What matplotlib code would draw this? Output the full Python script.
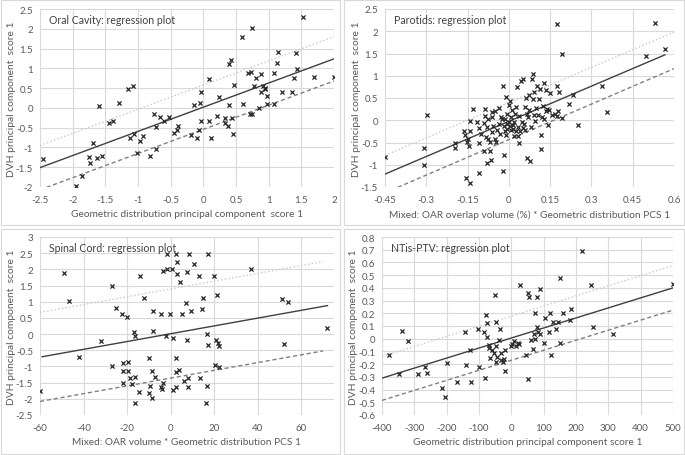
import matplotlib
matplotlib.use('Agg')
import matplotlib.pyplot as plt
import matplotlib.patches as mpatches
import numpy as np

plt.rcParams['font.family'] = ['Lato', 'DejaVu Sans']

# ---- Oral Cavity ----
oral_x = [-2.46, -1.95, -1.86, -1.75, -1.73, -1.69, -1.63, -1.55, -1.60, -1.45, -1.38, -1.29,
          -1.15, -1.07, -1.13, -1.06, -1.02, -0.97, -0.92, -0.81, -0.76, -0.73, -0.73, -0.67,
          -0.60, -0.53, -0.45, -0.40, -0.39, -0.19, -0.14, -0.10, -0.07, -0.05, -0.03, -0.03,
          0.08, 0.08, 0.11, 0.21, 0.24, 0.33, 0.33, 0.37, 0.40, 0.42, 0.40, 0.44, 0.45, 0.47,
          0.59, 0.60, 0.69, 0.73, 0.75, 0.72, 0.75, 0.77, 0.80, 0.85, 0.88, 0.89, 0.92, 0.94,
          0.94, 0.97, 0.98, 1.08, 1.08, 1.12, 1.15, 1.20, 1.36, 1.39, 1.42, 1.43, 1.53, 1.70, 2.00]
oral_y = [-1.29, -1.97, -1.72, -1.23, -1.40, -0.90, -1.27, -1.22, 0.05, -0.38, -0.33, 0.12,
          0.48, 0.55, -0.76, -0.65, -1.13, -0.83, -0.70, -1.22, -0.16, -0.49, -1.03, -0.22,
          -0.32, -0.24, -0.63, -0.57, -0.47, -0.68, 0.08, -0.76, -0.55, 0.13, -0.34, 0.41,
          0.74, -0.33, -0.75, -0.20, 0.28, -0.37, -0.26, -0.45, 1.11, 1.20, 0.08, -0.26, -0.66, 0.58,
          1.80, 0.11, 0.88, 0.90, 2.03, -0.15, -0.15, 0.55, 0.75, 0.00, 0.39, 0.85, 0.55, 0.50,
          0.47, 0.31, 0.10, 0.88, 0.11, 1.13, 1.42, 0.40, 0.40, 0.75, 1.38, 0.98, 2.31, 0.78, 0.78]
oral_line_x = [-2.5, 2.0]
oral_fit = [-1.51, 1.24]
oral_upper = [-0.95, 1.80]
oral_lower = [-2.07, 0.68]

# ---- Parotids ----
par_x = [-0.45, -0.31, -0.31, -0.298, -0.195, -0.195, -0.163, -0.16, -0.152, -0.156, -0.14, -0.149,
         -0.141, -0.141, -0.143, -0.13, -0.117, -0.11, -0.108, -0.108, -0.10, -0.092, -0.092, -0.088,
         -0.086, -0.083, -0.08, -0.078, -0.074, -0.074, -0.07, -0.068, -0.066, -0.063, -0.062, -0.06,
         -0.056, -0.052, -0.05, -0.047, -0.043, -0.037, -0.035, -0.033, -0.027, -0.025, -0.023, -0.02,
         -0.019, -0.017, -0.015, -0.013, -0.012, -0.009, -0.007, -0.006, -0.005, -0.001, 0.0, 0.003,
         0.005, 0.006, 0.009, 0.011, 0.014, 0.015, 0.017, 0.02, 0.023, 0.025, 0.027, 0.029, 0.032,
         0.033, 0.036, 0.038, 0.04, 0.044, 0.048, 0.05, 0.052, 0.054, 0.057, 0.06, 0.062, 0.065,
         0.067, 0.07, 0.072, 0.074, 0.078, 0.08, 0.084, 0.087, 0.088, 0.09, 0.093, 0.096, 0.10,
         0.102, 0.106, 0.111, 0.113, 0.116, 0.117, 0.12, 0.123, 0.127, 0.128, 0.135, 0.136, 0.137,
         0.141, 0.146, 0.148, 0.157, 0.169, 0.175, 0.175, 0.175, 0.179, 0.181, 0.193, 0.193, 0.22,
         0.233, 0.252, 0.339, 0.356, 0.499, 0.531, 0.567]
par_y = [-0.83, -0.63, -1.00, 0.12, -0.62, -0.51, -0.25, -0.34, -0.49, -1.30, -1.41, -0.42,
         -0.24, -0.01, -0.58, 0.26, -0.04, -0.18, -1.19, -0.51, -0.30, -0.06, -0.68, 0.09,
         0.26, -0.38, -0.15, -0.95, 0.03, -0.42, -0.48, -0.68, -0.90, 0.18, -0.27, 0.07,
         -0.12, 0.20, -0.42, -0.49, -0.23, 0.27, -0.08, -0.30, 0.07, 0.03, 0.77, -1.14,
         -0.79, -0.12, -0.25, 0.03, -0.33, 0.53, 0.14, -0.08, -0.19, -0.03, 0.35, -0.13,
         0.44, -0.21, 0.07, 0.24, -0.10, -0.19, -0.36, -0.03, 0.14, -0.25, 0.30, 0.74, -0.36,
         -0.15, 0.09, -0.51, -0.24, 0.88, -0.03, -0.18, 0.92, -0.08, 0.29, -0.23, 0.50, 0.14,
         -0.85, 0.07, 0.56, 0.24, -0.92, -0.15, 0.92, 0.48, 1.05, 0.11, 0.63, -0.01, 0.27,
         0.77, 0.11, 0.48, 0.70, -0.33, -0.64, 0.07, 0.33, 0.84, 0.02, 0.69, 0.20, 0.26,
         -0.10, 0.22, 0.62, 0.11, 0.14, 0.09, 0.77, 2.16, 0.20, 0.63, 1.49, 0.05, 0.37,
         0.57, -0.10, 0.77, 0.18, 1.44, 2.19, 1.60]
par_fit_x = [-0.45, 0.567]
par_fit = [-1.21, 1.47]
par_band_x = [-0.45, 0.6]
par_upper = [-0.79, 1.98]
par_lower = [-1.63, 1.16]

# ---- Spinal Cord ----
sc_x = [-60, -49, -46.6, -42.3, -32, -27, -26.8, -25.2, -22.4, -22.1, -22.1, -21.8, -20.1, -19.6,
        -19.6, -18.6, -17.6, -17, -16.6, -16.4, -16.4, -14.6, -14.1, -12.4, -10.1, -10.1, -9.5, -8.7,
        -8.6, -8.3, -8, -7.2, -4.6, -4.6, -4, -3.7, -3.4, -2.1, -1.8, -1.5, -0.3, 0.8, 0.9, 0.9,
        2.3, 2.3, 2.5, 2.6, 2.8, 2.9, 3.8, 4.4, 5.2, 6, 6.9, 7.4, 7.4, 7.8, 8, 8.4, 9.2, 10.9,
        13.2, 13.5, 14.3, 14.7, 16.4, 16.6, 16.7, 17, 17.2, 19.9, 20.3, 20.9, 21.2, 21.6, 22.1,
        22.4, 37, 51, 52, 53.7, 71.8]
sc_y = [-1.77, 1.90, 1.03, -0.70, -0.20, -1.00, 1.48, 0.80, 0.61, -0.88, -1.15, -1.50, 0.52, -0.87,
        -1.13, -1.37, -1.53, 0.05, -0.07, -2.13, -1.33, -1.78, 1.80, 1.12, -0.75, -1.82, -1.60, -1.98,
        -1.13, 0.70, 0.10, -1.32, 0.63, -1.63, -1.70, 1.94, -1.50, -0.07, 2.48, 2.02, 0.63, 2.02, -0.12, -1.73,
        2.48, -0.73, -1.65, -1.17, 2.22, 1.87, -1.10, 1.62, 0.63, -1.45, 0.97, 1.93, -0.17, -1.35, -1.62, 2.48, 0.72, 2.18,
        1.80, -1.35, 0.77, 1.10, -2.13, 0.00, -1.60, 2.47, -0.33, 1.80, -0.97, -0.17, 1.20, -0.27, -1.03,
        -0.37, 2.02, 1.08, -0.32, 0.98, 0.20]
sc_fit_x = [-59, 72]
sc_fit = [-0.70, 0.88]
sc_band_x = [-60, 70]
sc_upper = [0.67, 2.24]
sc_lower = [-2.08, -0.52]

# ---- NTis-PTV ----
nt_x = [-378, -348, -338, -321, -288, -267, -261, -214, -205, -198, -169, -143, -140, -124, -129,
        -104, -101, -86, -80, -78, -74, -76, -70, -70, -65, -60, -55, -52, -48, -48, -46, -43, -39,
        -34, -33, -31, -26, -22, -21, -20, 0, 3, 7, 15, 20, 24, 28, 44, 50, 50, 56, 60, 67, 70, 72,
        74, 79, 80, 84, 88, 89, 101, 103, 118, 120, 124, 128, 139, 144, 150, 152, 159, 180, 186,
        219, 245, 252, 313, 499]
nt_y = [-0.13, -0.28, 0.06, -0.02, -0.28, -0.22, -0.27, -0.39, -0.46, -0.19, -0.34, 0.05, -0.21, -0.34, -0.09,
        0.08, -0.22, 0.05, -0.31, 0.19, 0.12, 0.01, -0.05, -0.07, -0.15, -0.09, -0.11, 0.34, -0.18, 0.13, -0.06, -0.14, -0.01,
        0.08, -0.11, -0.17, -0.18, -0.16, -0.25, -0.09, -0.06, -0.04, -0.02, -0.06, -0.03, -0.04, 0.42, -0.13, 0.36, -0.32, 0.33, -0.01, -0.08, 0.04, 0.00,
        0.20, 0.33, 0.09, 0.05, 0.04, 0.39, -0.03, 0.16, 0.05, 0.20, -0.13, 0.13, 0.08, 0.13, 0.48, -0.03, 0.20, 0.15, 0.23,
        0.69, 0.42, 0.09, 0.04, 0.43]
nt_line_x = [-400, 500]
nt_fit = [-0.31, 0.40]
nt_upper = [-0.14, 0.575]
nt_lower = [-0.485, 0.225]

W, H = 685, 456
fig = plt.figure(figsize=(W / 100, H / 100), dpi=100)

# chart frames
for (x0, y0, x1, y1) in [(1, 1, 340, 226), (344, 1, 684, 226), (1, 230, 340, 455), (344, 230, 684, 455)]:
    fig.patches.append(mpatches.Rectangle((x0 / W, 1 - y1 / H), (x1 - x0) / W, (y1 - y0) / H,
                                          transform=fig.transFigure, fill=False,
                                          edgecolor='#d9d9d9', linewidth=0.8))

tick_c = '#595959'
lab_c = '#595959'


def tick_fmt(v, p):
    v = round(v, 4)
    if abs(v) < 1e-9:
        return '0'
    return '{:g}'.format(v)


fmt = matplotlib.ticker.FuncFormatter(tick_fmt)


def make_ax(px):
    l, t, r, b = px
    ax = fig.add_axes([l / W, 1 - b / H, (r - l) / W, (b - t) / H])
    for s in ax.spines.values():
        s.set_visible(False)
    ax.grid(True, color='#d9d9d9', linewidth=0.8)
    ax.set_axisbelow(True)
    ax.tick_params(length=0, labelsize=7, colors=tick_c, pad=5)
    ax.tick_params(axis='x', pad=6)
    ax.xaxis.set_major_formatter(fmt)
    ax.yaxis.set_major_formatter(fmt)
    return ax


def draw(ax, x, y, fx, fy, bx, up, lo, title, xlabel, xlim, ylim, xticks, yticks):
    ax.scatter(x, y, marker='x', s=9, linewidths=0.9, color='#262626', zorder=3)
    ax.plot(fx, fy, color='#404040', linewidth=1.0, zorder=2)
    ax.plot(bx, up, color='#c8c8c8', linewidth=1.0, linestyle=':', zorder=2)
    ax.plot(bx, lo, color='#808080', linewidth=1.0, linestyle=(0, (3, 2)), zorder=2)
    ax.set_xlim(xlim)
    ax.set_ylim(ylim)
    ax.set_xticks(xticks)
    ax.set_yticks(yticks)
    bb = ax.get_position()
    wpx, hpx = bb.width * W, bb.height * H
    ax.text(9 / wpx, 1 - 11 / hpx, title, transform=ax.transAxes, fontsize=7.6,
            color='#404040', va='center', ha='left')
    ax.set_xlabel(xlabel, fontsize=7.3, color=lab_c)
    ax.set_ylabel('DVH principal component  score 1', fontsize=7.4, color=lab_c)
    ax.yaxis.set_label_coords(-24 / wpx, 0.5)
    ax.xaxis.set_label_coords(0.5, -22 / hpx)


ax1 = make_ax((40, 10, 334, 188))
draw(ax1, oral_x, oral_y, oral_line_x, oral_fit, oral_line_x, oral_upper, oral_lower,
     'Oral Cavity: regression plot', 'Geometric distribution principal component  score 1',
     (-2.5, 2), (-2, 2.5), np.arange(-2.5, 2.01, 0.5), np.arange(-2, 2.51, 0.5))

ax2 = make_ax((385, 10, 674, 188))
draw(ax2, par_x, par_y, par_fit_x, par_fit, par_band_x, par_upper, par_lower,
     'Parotids: regression plot', 'Mixed: OAR overlap volume (%) * Geometric distribution PCS 1',
     (-0.45, 0.6), (-1.5, 2.5), np.arange(-0.45, 0.61, 0.15), np.arange(-1.5, 2.51, 0.5))

ax3 = make_ax((40, 238, 334, 416))
draw(ax3, sc_x, sc_y, sc_fit_x, sc_fit, sc_band_x, sc_upper, sc_lower,
     'Spinal Cord: regression plot', 'Mixed: OAR volume * Geometric distribution PCS 1',
     (-60, 75), (-2.5, 3), np.arange(-60, 61, 20), np.arange(-2.5, 3.01, 0.5))

ax4 = make_ax((382, 238, 673, 416))
draw(ax4, nt_x, nt_y, nt_line_x, nt_fit, nt_line_x, nt_upper, nt_lower,
     'NTis-PTV: regression plot', 'Geometric distribution principal component score 1',
     (-400, 500), (-0.6, 0.8), np.arange(-400, 501, 100), np.arange(-0.6, 0.81, 0.1))

fig.savefig('out.png', dpi=100)
